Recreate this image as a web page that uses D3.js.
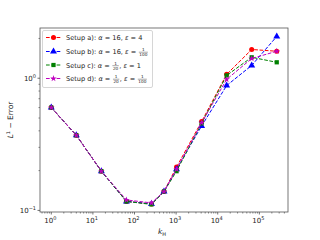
<!DOCTYPE html>
<html>
<head>
<meta charset="utf-8">
<script src="https://cdn.jsdelivr.net/npm/d3@7"></script>
<style>
  body { margin: 0; background: #fff; }
  text { font-family: "DejaVu Sans", sans-serif; }
</style>
</head>
<body>
<script>
// data
var kValues = [1, 4, 16, 64, 256, 512, 1024, 4096, 16384, 65536, 262144];
var setupA = [0.60, 0.37, 0.198, 0.117, 0.112, 0.139, 0.213, 0.47, 1.07, 1.65, 1.60];
var setupB = [0.60, 0.37, 0.198, 0.117, 0.112, 0.139, 0.205, 0.435, 0.88, 1.25, 2.07];
var setupC = [0.60, 0.37, 0.198, 0.117, 0.111, 0.139, 0.198, 0.455, 1.05, 1.44, 1.32];
var setupD = [0.60, 0.37, 0.198, 0.120, 0.114, 0.139, 0.205, 0.46, 0.98, 1.41, 1.60];
var xTickExps = [0, 1, 2, 3, 4, 5];
var yTickExps = [-1, 0];

var series = [
  {name: "a", values: setupA, color: "#ff0000", marker: "circle",
   label: ["Setup a): ", {i: "α"}, " = 16, ", {i: "ε"}, " = 4"]},
  {name: "b", values: setupB, color: "#0000ff", marker: "triangle",
   label: ["Setup b): ", {i: "α"}, " = 16, ", {i: "ε"}, " = ", {n: "1", d: "100"}]},
  {name: "c", values: setupC, color: "#008000", marker: "square",
   label: ["Setup c): ", {i: "α"}, " = ", {n: "1", d: "20"}, ", ", {i: "ε"}, " = 1"]},
  {name: "d", values: setupD, color: "#bf00bf", marker: "star",
   label: ["Setup d): ", {i: "α"}, " = ", {n: "1", d: "20"}, ", ", {i: "ε"}, " = ", {n: "1", d: "100"}]}
];

var W = 320, H = 240;
var pLeft = 40, pRight = 288, pTop = 28, pBottom = 212;

var svg = d3.select("body").append("svg")
  .attr("width", W)
  .attr("height", H);

var x = d3.scaleLog().domain([Math.pow(10, -0.271), Math.pow(10, 5.689)]).range([pLeft, pRight]);
var y = d3.scaleLog().domain([Math.pow(10, -1.012), Math.pow(10, 0.38)]).range([pBottom, pTop]);

// minor ticks
var xMinor = [], yMinor = [];
for (var e = -1; e <= 5; e++) {
  for (var m = 2; m <= 9; m++) {
    var v = m * Math.pow(10, e);
    if (v > x.domain()[0] && v < x.domain()[1]) xMinor.push(v);
  }
}
for (var e2 = -2; e2 <= 0; e2++) {
  for (var m2 = 2; m2 <= 9; m2++) {
    var v2 = m2 * Math.pow(10, e2);
    if (v2 > y.domain()[0] && v2 < y.domain()[1]) yMinor.push(v2);
  }
}

var tickColor = "#333";
svg.selectAll("line.xminor").data(xMinor).enter().append("line")
  .attr("x1", function(d){ return x(d); }).attr("x2", function(d){ return x(d); })
  .attr("y1", pBottom).attr("y2", pBottom + 1.5)
  .attr("stroke", tickColor).attr("stroke-width", 0.6);
svg.selectAll("line.xmajor").data(xTickExps).enter().append("line")
  .attr("x1", function(d){ return x(Math.pow(10, d)); }).attr("x2", function(d){ return x(Math.pow(10, d)); })
  .attr("y1", pBottom).attr("y2", pBottom + 2.5)
  .attr("stroke", tickColor).attr("stroke-width", 0.7);
svg.selectAll("line.yminor").data(yMinor).enter().append("line")
  .attr("y1", function(d){ return y(d); }).attr("y2", function(d){ return y(d); })
  .attr("x1", pLeft).attr("x2", pLeft - 1.5)
  .attr("stroke", tickColor).attr("stroke-width", 0.6);
svg.selectAll("line.ymajor").data(yTickExps).enter().append("line")
  .attr("y1", function(d){ return y(Math.pow(10, d)); }).attr("y2", function(d){ return y(Math.pow(10, d)); })
  .attr("x1", pLeft).attr("x2", pLeft - 2.5)
  .attr("stroke", tickColor).attr("stroke-width", 0.7);

// tick labels 10^n
function powLabel(sel, exp) {
  sel.append("tspan").text("10");
  sel.append("tspan").attr("dy", -3).attr("font-size", 5).text(exp < 0 ? "\u22121" : exp);
}
svg.selectAll("text.xt").data(xTickExps).enter().append("text")
  .attr("x", function(d){ return x(Math.pow(10, d)) - 1; })
  .attr("y", pBottom + 11)
  .attr("font-size", 7).attr("text-anchor", "middle").attr("fill", "#222")
  .each(function(d){ powLabel(d3.select(this), d); });
svg.selectAll("text.yt").data(yTickExps).enter().append("text")
  .attr("x", pLeft - 4)
  .attr("y", function(d){ return y(Math.pow(10, d)) + 3; })
  .attr("font-size", 7).attr("text-anchor", "end").attr("fill", "#222")
  .each(function(d){ powLabel(d3.select(this), d); });

// axis labels
var xl = svg.append("text").attr("x", 162).attr("y", 234).attr("font-size", 7.5)
  .attr("text-anchor", "middle").attr("fill", "#222");
xl.append("tspan").attr("font-style", "italic").text("k");
xl.append("tspan").attr("font-size", 5).attr("dy", 1.5).text("H");

var yl = svg.append("text").attr("transform", "translate(13," + ((pTop + pBottom) / 2) + ") rotate(-90)")
  .attr("font-size", 7.5).attr("text-anchor", "middle").attr("fill", "#222");
yl.append("tspan").attr("font-style", "italic").text("L");
yl.append("tspan").attr("font-size", 5).attr("dy", -3).text("1");
yl.append("tspan").attr("dy", 3).text(" \u2212 Error");

// markers
function markerPath(type) {
  if (type === "circle") return d3.symbol().type(d3.symbolCircle).size(20)();
  if (type === "triangle") return d3.symbol().type(d3.symbolTriangle).size(21)();
  if (type === "square") return d3.symbol().type(d3.symbolSquare).size(18)();
  return d3.symbol().type(d3.symbolStar).size(13)();
}

var line = d3.line()
  .x(function(d, i){ return x(kValues[i]); })
  .y(function(d){ return y(d); });

svg.append("clipPath").attr("id", "plotclip").append("rect")
  .attr("x", pLeft).attr("y", pTop).attr("width", pRight - pLeft).attr("height", pBottom - pTop);
var plot = svg.append("g").attr("clip-path", "url(#plotclip)");

series.forEach(function(s) {
  plot.append("path")
    .attr("d", line(s.values))
    .attr("fill", "none")
    .attr("stroke", s.color)
    .attr("stroke-width", 1)
    .attr("stroke-dasharray", "3.7,1.6");
  plot.selectAll("path.m" + s.name).data(s.values).enter().append("path")
    .attr("d", markerPath(s.marker))
    .attr("transform", function(d, i){ return "translate(" + x(kValues[i]) + "," + y(d) + ")"; })
    .attr("fill", s.color);
});

// frame
svg.append("rect").attr("x", pLeft).attr("y", pTop).attr("width", pRight - pLeft).attr("height", pBottom - pTop)
  .attr("fill", "none").attr("stroke", "#555").attr("stroke-width", 0.8);

// legend
var lg = svg.append("g");
lg.append("rect").attr("x", 42.5).attr("y", 30.5).attr("width", 110).attr("height", 57).attr("rx", 1.5)
  .attr("fill", "#fff").attr("fill-opacity", 0.8).attr("stroke", "#ccc").attr("stroke-width", 0.8);

var rowY = [37.5, 51.5, 65, 78.5];
series.forEach(function(s, i) {
  var ry = rowY[i];
  lg.append("line").attr("x1", 46).attr("x2", 61).attr("y1", ry).attr("y2", ry)
    .attr("stroke", s.color).attr("stroke-width", 1).attr("stroke-dasharray", "3.7,1.6");
  lg.append("path").attr("d", markerPath(s.marker))
    .attr("transform", "translate(53.5," + ry + ")").attr("fill", s.color);

  var cx = 66;
  s.label.forEach(function(part) {
    var t;
    if (typeof part === "string") {
      t = lg.append("text").attr("x", cx).attr("y", ry + 2.5).attr("font-size", 6.6)
        .attr("fill", "#222").attr("xml:space", "preserve").text(part);
      cx += t.node().getComputedTextLength();
    } else if (part.i) {
      t = lg.append("text").attr("x", cx).attr("y", ry + 2.5).attr("font-size", 6.6)
        .attr("font-style", "italic").attr("fill", "#222").text(part.i);
      cx += t.node().getComputedTextLength();
    } else {
      var n = lg.append("text").attr("y", ry - 0.5).attr("font-size", 4.2)
        .attr("text-anchor", "middle").attr("fill", "#222").text(part.n);
      var dd = lg.append("text").attr("y", ry + 4.5).attr("font-size", 4.2)
        .attr("text-anchor", "middle").attr("fill", "#222").text(part.d);
      var w = Math.max(n.node().getComputedTextLength(), dd.node().getComputedTextLength()) + 1;
      n.attr("x", cx + w / 2 + 0.5);
      dd.attr("x", cx + w / 2 + 0.5);
      lg.append("line").attr("x1", cx + 0.5).attr("x2", cx + w + 0.5).attr("y1", ry + 0.7).attr("y2", ry + 0.7)
        .attr("stroke", "#222").attr("stroke-width", 0.4);
      cx += w + 1;
    }
  });
});
</script>
</body>
</html>
